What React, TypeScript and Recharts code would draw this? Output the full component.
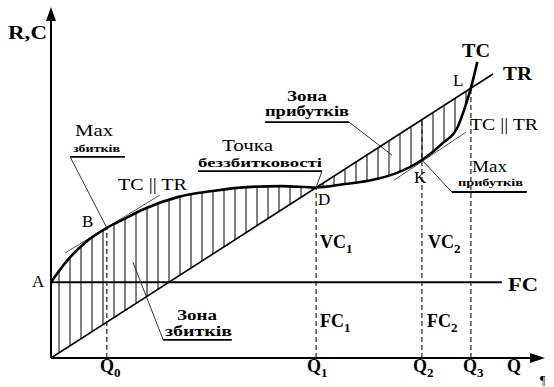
import { Area, ComposedChart, Line, ReferenceLine, XAxis, YAxis } from 'recharts';

// Output Q (0..100) against revenue / cost (0..100).
const tcQ = [0, 3, 7, 11.4, 15, 19, 26, 33, 40, 47, 54.1, 60, 65, 70.6, 75.7, 80, 83, 84.5, 85.7, 87];
const tcValues = [21.8, 27.5, 33.2, 37.4, 40, 42.8, 46.3, 48, 49.1, 49.4, 49, 50, 51, 53.2, 56.9, 61.8, 66.4, 72.1, 77.6, 85.1];
// TR read at the same Q points, up to L (Q3)
const trValues = [0, 2.7, 6.3, 10.3, 13.6, 17.2, 23.5, 29.9, 36.2, 42.5, 49, 54.3, 58.8, 63.9, 68.5, 72.4, 75.1, 76.5, 77.6];
const trLineQ = [0, 90.2];
const trLineValues = [0, 81.6];
const fixedCost = 21.8;
const fcEndQ = 92;
const qMarks = [
  { q: 11.4, top: 37.4 },
  { q: 54.1, top: 49 },
  { q: 75.7, top: 68.5 },
  { q: 85.7, top: 77.6 },
];

const tcData = tcQ.map((q, i) => ({ q, tc: tcValues[i] }));
const trData = trLineQ.map((q, i) => ({ q, tr: trLineValues[i] }));
const bandData = trValues.map((tr, i) => ({ q: tcQ[i], band: [tr, tcValues[i]] }));

type Pt = { x: number; y: number };
// tangent lines (TC || TR) at B and K
const tangents: [Pt, Pt][] = [
  [{ x: 2.9, y: 30.2 }, { x: 22.2, y: 46.8 }],
  [{ x: 70, y: 51.1 }, { x: 84.7, y: 64.9 }],
];
// label leaders: underline + thin pointer
const underlines: [Pt, Pt][] = [
  [{ x: 3.9, y: 57.8 }, { x: 15.1, y: 57.8 }],
  [{ x: 30, y: 53.7 }, { x: 55.3, y: 53.7 }],
  [{ x: 43.7, y: 67.8 }, { x: 60.8, y: 67.8 }],
  [{ x: 81.8, y: 47.7 }, { x: 97.1, y: 47.7 }],
  [{ x: 22.9, y: 5.2 }, { x: 36.9, y: 5.2 }],
];
const pointers: [Pt, Pt][] = [
  [{ x: 3.9, y: 57.8 }, { x: 11.4, y: 37.4 }],
  [{ x: 55.3, y: 53.7 }, { x: 54.1, y: 49 }],
  [{ x: 60.8, y: 67.8 }, { x: 69.6, y: 58.3 }],
  [{ x: 81.8, y: 47.7 }, { x: 75.9, y: 56.6 }],
  [{ x: 22.9, y: 5.2 }, { x: 16.7, y: 27.6 }],
];

const FONT = '"Liberation Serif", "Times New Roman", serif';

function T({ x, y, size = 16, bold = false, w, children }: { x: number; y: number; size?: number; bold?: boolean; w?: number; children: React.ReactNode }) {
  return (
    <text
      x={x}
      y={y}
      fontFamily={FONT}
      fontSize={size}
      fontWeight={bold ? 700 : 400}
      fill="#000"
      textLength={w}
      lengthAdjust={w ? 'spacingAndGlyphs' : undefined}
    >
      {children}
    </text>
  );
}

function Sub({ x, y, main, sub }: { x: number; y: number; main: string; sub: string }) {
  return (
    <text x={x} y={y} fontFamily={FONT} fontSize={18} fontWeight={700} fill="#000">
      {main}
      <tspan fontSize={13} dy={5}>{sub}</tspan>
    </text>
  );
}

export default function App() {
  return (
    <div style={{ position: 'absolute', left: 0, top: 0, background: '#fff' }}>
      <ComposedChart width={554} height={387} margin={{ top: 10, right: 13, bottom: 29, left: 51 }}>
        <defs>
          <pattern id="hatch" patternUnits="userSpaceOnUse" width={11} height={8}>
            <line x1={4} y1={0} x2={4} y2={8} stroke="#000" strokeWidth={1} />
          </pattern>
        </defs>
        <XAxis type="number" dataKey="q" domain={[0, 100]} hide allowDataOverflow />
        <YAxis type="number" domain={[0, 100]} hide allowDataOverflow />

        <Area data={bandData} dataKey="band" type="monotone" stroke="none" fill="url(#hatch)" fillOpacity={1} isAnimationActive={false} />

        {/* axes */}
        <ReferenceLine segment={[{ x: 0, y: 0 }, { x: 99, y: 0 }]} stroke="#000" strokeWidth={2} ifOverflow="visible" />
        <ReferenceLine segment={[{ x: 0, y: 0 }, { x: 0, y: 99 }]} stroke="#000" strokeWidth={2} ifOverflow="visible" />

        <ReferenceLine segment={[{ x: 0, y: fixedCost }, { x: fcEndQ, y: fixedCost }]} stroke="#000" strokeWidth={2} ifOverflow="visible" />

        {qMarks.map((m) => (
          <ReferenceLine key={m.q} segment={[{ x: m.q, y: 0 }, { x: m.q, y: m.top }]} stroke="#222" strokeWidth={1.2} strokeDasharray="5 3" ifOverflow="visible" />
        ))}

        {tangents.map((s, i) => (
          <ReferenceLine key={`t${i}`} segment={s} stroke="#555" strokeWidth={1} ifOverflow="visible" />
        ))}
        {pointers.map((s, i) => (
          <ReferenceLine key={`p${i}`} segment={s} stroke="#333" strokeWidth={1} ifOverflow="visible" />
        ))}
        {underlines.map((s, i) => (
          <ReferenceLine key={`u${i}`} segment={s} stroke="#000" strokeWidth={1.8} ifOverflow="visible" />
        ))}

        <Line data={trData} dataKey="tr" type="linear" stroke="#000" strokeWidth={1.6} dot={false} isAnimationActive={false} />
        <Line data={tcData} dataKey="tc" type="monotone" stroke="#000" strokeWidth={2.6} dot={false} isAnimationActive={false} />

        {/* arrow heads */}
        <polygon points="51,7 46,21 56,21" fill="#000" />
        <polygon points="545,358 530,353 530,363" fill="#000" />

        <T x={8} y={39} size={18} bold w={39}>R,C</T>
        <T x={32} y={287} size={17}>A</T>
        <T x={82} y={227} size={17}>B</T>
        <T x={318} y={205} size={17}>D</T>
        <T x={414} y={183} size={17}>K</T>
        <T x={453} y={86} size={17}>L</T>
        <T x={462} y={57} size={19} bold w={28}>TC</T>
        <T x={503} y={80} size={19} bold w={29}>TR</T>
        <T x={508} y={291} size={19} bold w={30}>FC</T>
        <T x={507} y={372} size={18} bold>Q</T>

        <Sub x={100} y={372} main="Q" sub="0" />
        <Sub x={307} y={372} main="Q" sub="1" />
        <Sub x={413} y={372} main="Q" sub="2" />
        <Sub x={463} y={372} main="Q" sub="3" />
        <Sub x={320} y={248} main="VC" sub="1" />
        <Sub x={428} y={248} main="VC" sub="2" />
        <Sub x={320} y={327} main="FC" sub="1" />
        <Sub x={427} y={327} main="FC" sub="2" />

        <T x={118} y={190} size={16} w={69}>TC || TR</T>
        <T x={470} y={130} size={16} w={68}>TC || TR</T>

        <T x={75} y={136} size={17} w={38}>Max</T>
        <T x={73} y={152} size={10} bold w={47}>збитків</T>
        <T x={222} y={151} size={16} w={51}>Точка</T>
        <T x={198} y={167} size={13} bold w={124}>беззбитковості</T>
        <T x={287} y={101} size={15} bold w={40}>Зона</T>
        <T x={265} y={116} size={14} bold w={84}>прибутків</T>
        <T x={472} y={172} size={17} w={35}>Max</T>
        <T x={458} y={186} size={10} bold w={65}>прибутків</T>
        <T x={177} y={320} size={15} bold w={40}>Зона</T>
        <T x={165} y={336} size={14} bold w={67}>збитків</T>
        <T x={540} y={384} size={12}>¶</T>
      </ComposedChart>
    </div>
  );
}
